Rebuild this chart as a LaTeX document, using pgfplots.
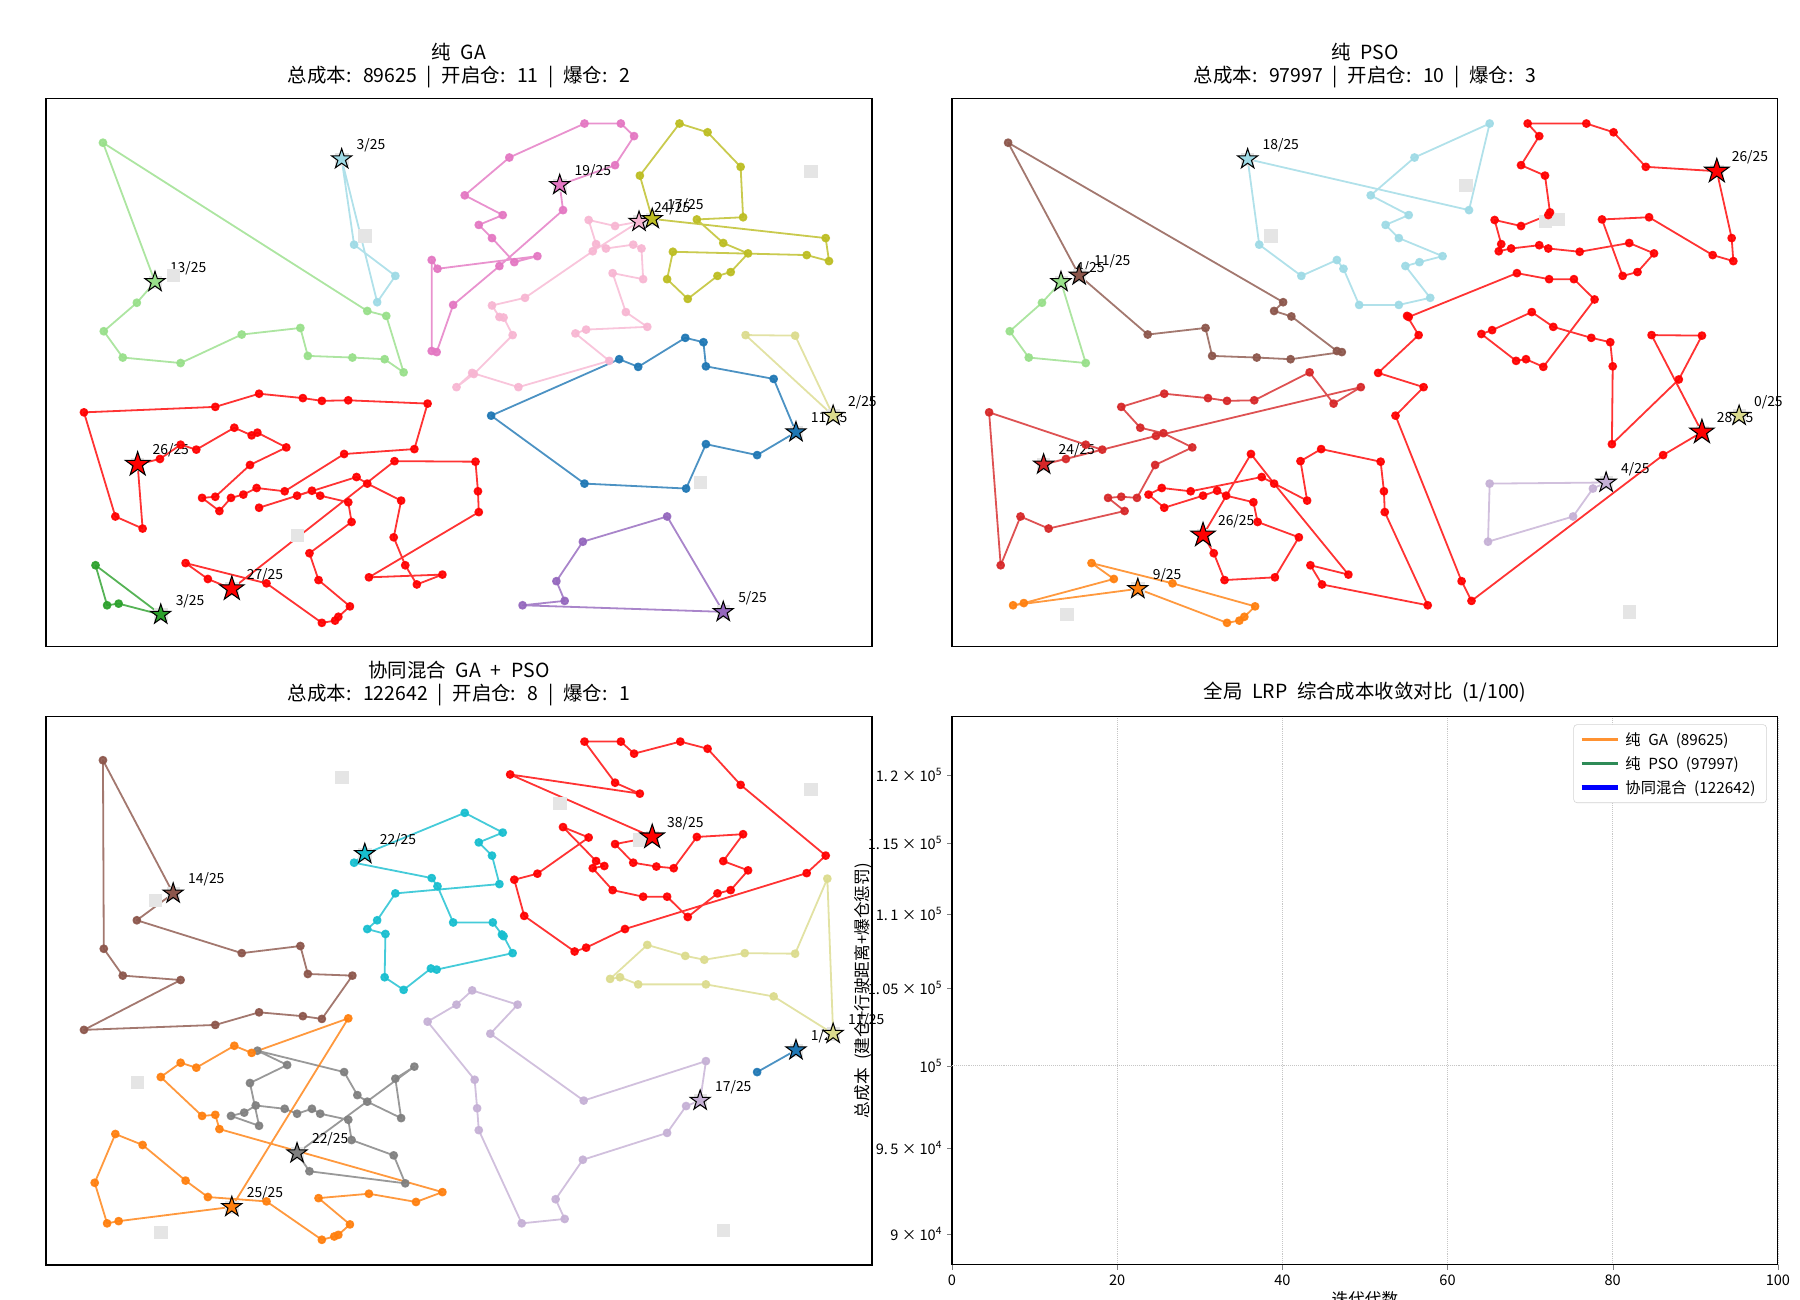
\documentclass[border=0pt]{standalone}
\usepackage{fontspec}
\setmainfont{Noto Sans CJK SC}
\usepackage{pgfplots}
\pgfplotsset{compat=1.18}
\usetikzlibrary{plotmarks}

\definecolor{c0}{HTML}{1F77B4}
\definecolor{c2}{HTML}{FF7F0E}
\definecolor{c4}{HTML}{2CA02C}
\definecolor{c5}{HTML}{98DF8A}
\definecolor{c6}{HTML}{D62728}
\definecolor{c8}{HTML}{9467BD}
\definecolor{c9}{HTML}{C5B0D5}
\definecolor{c10}{HTML}{8C564B}
\definecolor{c12}{HTML}{E377C2}
\definecolor{c13}{HTML}{F7B6D2}
\definecolor{c14}{HTML}{7F7F7F}
\definecolor{c16}{HTML}{BCBD22}
\definecolor{c17}{HTML}{DBDB8D}
\definecolor{c18}{HTML}{17BECF}
\definecolor{c19}{HTML}{9EDAE5}
\definecolor{ovr}{HTML}{FF0000}
\definecolor{lgreen}{HTML}{2E8B57}

\newcommand{\g}{\hspace{0.5em}}
\newcommand{\cl}{:\hspace{0.6em}}

\pgfdeclareplotmark{fstar}{%
  \pgfpathmoveto{\pgfpointpolar{90}{\pgfplotmarksize}}%
  \pgfpathlineto{\pgfpointpolar{126}{0.382\pgfplotmarksize}}%
  \pgfpathlineto{\pgfpointpolar{162}{\pgfplotmarksize}}%
  \pgfpathlineto{\pgfpointpolar{198}{0.382\pgfplotmarksize}}%
  \pgfpathlineto{\pgfpointpolar{234}{\pgfplotmarksize}}%
  \pgfpathlineto{\pgfpointpolar{270}{0.382\pgfplotmarksize}}%
  \pgfpathlineto{\pgfpointpolar{306}{\pgfplotmarksize}}%
  \pgfpathlineto{\pgfpointpolar{342}{0.382\pgfplotmarksize}}%
  \pgfpathlineto{\pgfpointpolar{18}{\pgfplotmarksize}}%
  \pgfpathlineto{\pgfpointpolar{54}{0.382\pgfplotmarksize}}%
  \pgfpathclose
  \pgfusepathqfillstroke
}

\tikzset{lab/.style={anchor=base west, inner sep=0pt, xshift=10.6pt, yshift=6.8pt,
    font=\fontsize{10}{12}\selectfont}}

\pgfplotsset{
  routeaxis/.style={anchor=south west, width=594.7pt, height=394.6pt, scale only axis,
    xmin=0, xmax=100, ymin=0, ymax=100, xtick=\empty, ytick=\empty, clip=false,
    axis line style={line width=0.8pt},
    every axis title/.style={at={(0.5,1)}, anchor=south, yshift=7.5pt, inner sep=0pt,
      align=center, font=\fontsize{14}{16.5}\selectfont}},
  route/.style={color=#1, line width=1.3pt, opacity=0.8, line join=round,
    mark=*, mark size=2.5pt, mark options={solid, opacity=0.9}},
  depot/.style={only marks, mark=fstar, mark size=7.6pt,
    mark options={fill=#1, draw=black, line width=0.75pt}},
  bigdepot/.style={only marks, mark=fstar, mark size=9.2pt,
    mark options={fill=ovr, draw=black, line width=0.75pt}},
  cand/.style={only marks, mark=square*, mark size=4.4pt, color=gray!20},
}

\begin{document}
\begin{tikzpicture}
\useasboundingbox (0,0) rectangle (1296pt,936pt);

% ================= Pure GA =================
\begin{axis}[routeaxis, at={(33.1pt,470.2pt)},
  title={纯\g{}GA\\总成本\cl{}89625\g{}|\g{}开启仓\cl{}11\g{}|\g{}爆仓\cl{}2}]
\addplot[cand] coordinates {(13.2,66.6)(35.8,89.0)(62.2,84.3)(71.8,77.6)(73.4,78.1)(95.3,42.2)(90.8,39.2)(82.0,6.4)(13.9,5.9)(11.1,33.3)(22.5,10.6)(15.4,67.8)(38.6,75.0)(92.6,86.8)(79.2,30.0)(30.4,20.4)};
\addplot[route=c5] coordinates {(13.2,66.6)(11.0,62.8)(7.0,57.6)(9.3,52.8)(16.3,51.8)(23.7,57.0)(30.8,58.2)(31.7,53.1)(37.1,52.8)(41.0,52.5)(43.3,50.1)(41.2,60.4)(38.9,61.3)(6.9,92.0)(13.2,66.6)};
\addplot[route=c19] coordinates {(35.8,89.0)(37.3,73.4)(42.3,67.7)(40.1,62.9)(35.8,89.0)};
\addplot[route=c12] coordinates {(62.2,84.3)(68.9,87.9)(71.2,93.2)(69.6,95.5)(65.2,95.5)(56.1,89.3)(50.7,82.4)(55.3,78.8)(52.4,77.0)(54.0,74.6)(56.7,70.2)(59.5,71.3)(47.4,69.0)(46.7,70.6)(46.7,54.0)(47.3,53.8)(49.3,62.4)(54.9,69.5)(62.6,79.7)(62.2,84.3)};
\addplot[route=c13] coordinates {(71.8,77.6)(68.9,76.8)(65.7,77.9)(66.6,73.5)(67.8,72.7)(71.1,73.4)(72.1,72.7)(72.3,67.1)(68.6,68.2)(70.2,61.1)(72.8,58.4)(65.4,57.9)(64.1,57.2)(68.2,52.2)(57.2,47.4)(51.6,50.0)(49.7,47.4)(51.8,49.8)(56.5,56.9)(55.4,60.1)(54.9,60.2)(54.0,62.3)(58.0,63.7)(66.2,72.2)(71.8,77.6)};
\addplot[route=c16] coordinates {(73.4,78.1)(71.9,86.0)(76.7,95.5)(80.1,93.9)(84.1,87.6)(84.4,78.4)(78.8,78.0)(82.0,73.7)(85.0,71.8)(82.9,68.4)(81.3,67.7)(77.7,63.5)(75.2,67.1)(75.9,72.1)(92.1,71.5)(94.8,70.4)(94.4,74.6)(73.4,78.1)};
\addplot[route=c0] coordinates {(90.8,39.2)(88.1,48.9)(79.9,51.2)(79.6,55.6)(77.4,56.4)(71.7,51.1)(69.4,52.5)(53.9,42.2)(65.2,29.8)(77.5,28.9)(79.9,37.0)(86.1,35.0)(90.8,39.2)};
\addplot[route=c17] coordinates {(95.3,42.2)(90.7,56.8)(84.7,56.9)(95.3,42.2)};
\addplot[route=c8] coordinates {(82.0,6.4)(75.2,23.8)(65.0,19.2)(61.8,12.0)(62.8,8.4)(57.7,7.6)(82.0,6.4)};
\addplot[route=c4] coordinates {(13.9,5.9)(6.0,14.9)(7.4,7.6)(8.8,7.9)(13.9,5.9)};
\addplot[route=ovr] coordinates {(11.1,33.3)(13.8,34.3)(16.3,36.9)(18.2,36.0)(22.8,40.0)(24.9,38.6)(25.6,39.1)(29.1,36.4)(24.7,33.2)(20.5,27.4)(18.9,27.2)(21.0,24.8)(22.4,27.2)(23.9,27.8)(25.5,29.0)(28.9,28.4)(36.1,35.2)(44.6,36.1)(46.2,44.4)(36.6,45.0)(33.4,44.9)(31.1,45.4)(25.8,46.2)(20.5,43.8)(4.6,42.8)(8.4,23.8)(11.7,21.6)(11.1,33.3)};
\addplot[route=ovr] coordinates {(22.5,10.6)(19.6,12.4)(16.9,15.3)(26.7,11.6)(33.4,4.4)(35.0,4.8)(35.4,5.5)(36.8,7.4)(33.0,12.2)(31.9,17.1)(37.0,22.8)(36.6,26.4)(33.2,27.6)(32.2,28.5)(30.4,27.6)(25.8,25.4)(37.6,31.0)(38.9,29.8)(43.0,26.7)(42.1,20.0)(43.5,14.9)(44.9,11.4)(48.0,13.2)(39.1,12.7)(52.4,24.6)(52.3,28.4)(52.0,33.8)(42.2,33.9)(22.5,10.6)};
\addplot[depot=c5] coordinates {(13.2,66.6)};
\addplot[depot=c19] coordinates {(35.8,89.0)};
\addplot[depot=c12] coordinates {(62.2,84.3)};
\addplot[depot=c13] coordinates {(71.8,77.6)};
\addplot[depot=c16] coordinates {(73.4,78.1)};
\addplot[depot=c17] coordinates {(95.3,42.2)};
\addplot[depot=c0] coordinates {(90.8,39.2)};
\addplot[depot=c8] coordinates {(82.0,6.4)};
\addplot[depot=c4] coordinates {(13.9,5.9)};
\addplot[bigdepot] coordinates {(11.1,33.3)};
\addplot[bigdepot] coordinates {(22.5,10.6)};
\node[lab] at (axis cs:13.2,66.6) {13/25};
\node[lab] at (axis cs:35.8,89.0) {3/25};
\node[lab] at (axis cs:62.2,84.3) {19/25};
\node[lab] at (axis cs:71.8,77.6) {24/25};
\node[lab] at (axis cs:73.4,78.1) {17/25};
\node[lab] at (axis cs:95.3,42.2) {2/25};
\node[lab] at (axis cs:90.8,39.2) {11/25};
\node[lab] at (axis cs:82.0,6.4) {5/25};
\node[lab] at (axis cs:13.9,5.9) {3/25};
\node[lab] at (axis cs:11.1,33.3) {26/25};
\node[lab] at (axis cs:22.5,10.6) {27/25};
\end{axis}

% ================= Pure PSO =================
\begin{axis}[routeaxis, at={(685.4pt,470.2pt)},
  title={纯\g{}PSO\\总成本\cl{}97997\g{}|\g{}开启仓\cl{}10\g{}|\g{}爆仓\cl{}3}]
\addplot[cand] coordinates {(13.2,66.6)(35.8,89.0)(62.2,84.3)(71.8,77.6)(73.4,78.1)(95.3,42.2)(90.8,39.2)(82.0,6.4)(13.9,5.9)(11.1,33.3)(22.5,10.6)(15.4,67.8)(38.6,75.0)(92.6,86.8)(79.2,30.0)(30.4,20.4)};
\addplot[route=c19] coordinates {(35.8,89.0)(62.6,79.7)(65.1,95.5)(56.0,89.3)(50.7,82.4)(55.3,78.8)(52.5,77.0)(54.1,74.6)(59.4,71.3)(56.6,70.2)(54.9,69.5)(57.9,63.7)(54.1,62.4)(49.3,62.4)(47.4,69.0)(46.6,70.6)(42.3,67.7)(37.2,73.4)(35.8,89.0)};
\addplot[route=c10] coordinates {(15.4,67.8)(6.8,92.0)(40.1,62.9)(39.0,61.3)(41.1,60.3)(46.6,54.0)(47.2,53.8)(41.0,52.5)(36.9,52.8)(31.5,53.1)(30.7,58.2)(23.7,57.0)(15.4,67.8)};
\addplot[route=c5] coordinates {(13.2,66.6)(10.9,62.8)(7.0,57.6)(9.3,52.8)(16.2,51.8)(13.2,66.6)};
\addplot[route=ovr] coordinates {(92.6,86.8)(84.0,87.6)(80.1,93.9)(76.8,95.5)(69.7,95.5)(71.1,93.2)(68.9,87.9)(71.8,86.0)(72.4,79.3)(72.2,78.8)(68.9,76.8)(65.7,77.9)(66.5,73.5)(66.2,72.2)(67.7,72.7)(71.1,73.3)(72.2,72.7)(76.0,72.1)(82.0,73.7)(85.0,71.8)(83.0,68.4)(81.2,67.7)(78.7,78.0)(84.4,78.4)(92.1,71.5)(94.6,70.4)(94.4,74.6)(92.6,86.8)};
\addplot[route=ovr] coordinates {(90.8,39.2)(84.7,56.9)(90.8,56.8)(88.0,48.8)(79.9,37.0)(80.0,51.2)(79.7,55.6)(77.4,56.4)(72.8,58.4)(70.2,61.1)(65.4,57.8)(64.1,57.1)(68.3,52.2)(69.5,52.5)(71.6,51.1)(77.8,63.4)(75.3,67.1)(72.3,67.1)(68.4,68.2)(55.3,60.2)(55.1,60.4)(56.5,56.9)(51.6,50.0)(57.1,47.4)(53.7,42.2)(61.7,12.0)(62.9,8.4)(86.1,35.0)(90.8,39.2)};
\addplot[route=c9] coordinates {(79.2,30.0)(65.1,29.8)(64.9,19.2)(75.2,23.8)(77.6,28.9)(79.2,30.0)};
\addplot[route=c6] coordinates {(11.1,33.3)(13.8,34.3)(24.7,38.5)(49.5,47.4)(46.2,44.4)(43.3,50.1)(36.6,45.0)(33.3,44.9)(31.0,45.4)(25.7,46.2)(20.5,43.8)(22.8,40.0)(25.6,39.0)(29.1,36.4)(24.6,33.2)(22.4,27.2)(20.5,27.4)(18.9,27.2)(20.9,24.8)(11.7,21.6)(8.3,23.8)(5.9,14.9)(4.5,42.8)(16.2,36.9)(18.2,36.0)(11.1,33.3)};
\addplot[route=ovr] coordinates {(30.4,20.4)(31.7,17.1)(33.0,12.2)(39.1,12.7)(42.0,20.0)(37.0,22.8)(36.5,26.4)(33.2,27.6)(32.1,28.5)(30.4,27.6)(25.7,25.4)(23.8,27.8)(25.4,29.0)(28.9,28.4)(37.5,31.0)(43.0,26.7)(42.2,33.9)(44.7,36.1)(51.9,33.8)(52.3,28.4)(52.4,24.6)(57.6,7.6)(44.8,11.4)(43.4,14.9)(48.0,13.2)(39.0,29.8)(36.2,35.2)(30.4,20.4)};
\addplot[route=c2] coordinates {(22.5,10.6)(7.4,7.6)(8.7,8.0)(19.6,12.4)(16.9,15.3)(26.7,11.6)(36.7,7.4)(35.4,5.5)(34.8,4.8)(33.3,4.4)(22.5,10.6)};
\addplot[depot=c19] coordinates {(35.8,89.0)};
\addplot[depot=c10] coordinates {(15.4,67.8)};
\addplot[depot=c5] coordinates {(13.2,66.6)};
\addplot[bigdepot] coordinates {(92.6,86.8)};
\addplot[depot=c17] coordinates {(95.3,42.2)};
\addplot[bigdepot] coordinates {(90.8,39.2)};
\addplot[depot=c9] coordinates {(79.2,30.0)};
\addplot[depot=c6] coordinates {(11.1,33.3)};
\addplot[bigdepot] coordinates {(30.4,20.4)};
\addplot[depot=c2] coordinates {(22.5,10.6)};
\node[lab] at (axis cs:35.8,89.0) {18/25};
\node[lab] at (axis cs:15.4,67.8) {11/25};
\node[lab] at (axis cs:13.2,66.6) {4/25};
\node[lab] at (axis cs:92.6,86.8) {26/25};
\node[lab] at (axis cs:95.3,42.2) {0/25};
\node[lab] at (axis cs:90.8,39.2) {28/25};
\node[lab] at (axis cs:79.2,30.0) {4/25};
\node[lab] at (axis cs:11.1,33.3) {24/25};
\node[lab] at (axis cs:30.4,20.4) {26/25};
\node[lab] at (axis cs:22.5,10.6) {9/25};
\end{axis}

% ================= Hybrid =================
\begin{axis}[routeaxis, at={(33.1pt,25.2pt)},
  title={协同混合\g{}GA\g{}+\g{}PSO\\总成本\cl{}122642\g{}|\g{}开启仓\cl{}8\g{}|\g{}爆仓\cl{}1}]
\addplot[cand] coordinates {(13.2,66.6)(35.8,89.0)(62.2,84.3)(71.8,77.6)(73.4,78.1)(95.3,42.2)(90.8,39.2)(82.0,6.4)(13.9,5.9)(11.1,33.3)(22.5,10.6)(15.4,67.8)(38.6,75.0)(92.6,86.8)(79.2,30.0)(30.4,20.4)};
\addplot[route=c10] coordinates {(15.4,67.8)(6.9,92.1)(7.0,57.7)(9.3,52.8)(16.3,52.0)(4.6,42.9)(20.5,43.8)(25.8,46.1)(31.1,45.4)(33.4,44.9)(37.1,52.8)(31.7,53.1)(30.8,58.2)(23.7,56.9)(11.0,62.9)(15.4,67.8)};
\addplot[route=c18] coordinates {(38.6,75.0)(50.7,82.5)(55.3,78.9)(52.4,77.1)(54.0,74.7)(54.9,69.5)(42.3,67.8)(40.1,62.9)(38.9,61.3)(41.1,60.4)(41.0,52.5)(43.3,50.2)(46.6,54.1)(47.3,53.9)(56.5,56.9)(55.4,60.0)(55.2,60.3)(54.1,62.5)(49.3,62.5)(47.4,69.1)(46.7,70.6)(37.3,73.4)(38.6,75.0)};
\addplot[route=ovr] coordinates {(73.4,78.1)(56.2,89.5)(71.9,86.0)(68.9,88.0)(65.2,95.5)(69.6,95.5)(71.2,93.3)(76.8,95.5)(80.1,94.2)(84.1,87.6)(94.4,74.7)(92.1,71.5)(70.1,61.3)(65.4,57.9)(64.0,57.2)(57.9,63.7)(56.7,70.3)(59.5,71.4)(65.7,78.0)(62.6,79.9)(66.6,73.7)(67.6,72.8)(66.2,72.4)(68.6,68.4)(72.3,67.2)(75.2,67.2)(77.7,63.5)(81.3,67.8)(82.9,68.4)(85.0,72.0)(82.0,73.7)(84.4,78.6)(78.8,78.1)(76.0,72.4)(73.9,72.7)(71.1,73.4)(68.9,76.8)(73.4,78.1)};
\addplot[route=c17] coordinates {(95.3,42.2)(94.6,70.5)(90.7,56.8)(84.6,56.9)(79.7,55.7)(77.4,56.4)(72.8,58.4)(68.3,52.2)(69.5,52.5)(71.7,51.2)(79.9,51.2)(88.1,49.0)(95.3,42.2)};
\addplot[route=c0] coordinates {(90.8,39.2)(86.1,35.2)(90.8,39.2)};
\addplot[route=c9] coordinates {(79.2,30.0)(79.9,37.2)(65.1,30.0)(53.8,42.2)(57.1,47.5)(51.6,50.1)(49.7,47.5)(46.2,44.4)(51.9,33.8)(52.2,28.6)(52.4,24.6)(57.6,7.6)(62.8,8.4)(61.7,12.0)(65.0,19.2)(75.2,24.1)(77.5,29.0)(79.2,30.0)};
\addplot[route=c14] coordinates {(30.4,20.4)(44.6,36.2)(42.3,34.0)(43.0,26.8)(38.9,29.8)(37.7,31.0)(36.1,35.2)(25.6,39.1)(29.2,36.5)(24.7,33.2)(25.8,25.4)(22.4,27.2)(24.0,27.8)(25.4,29.1)(28.9,28.5)(30.4,27.6)(32.2,28.5)(33.2,27.6)(36.6,26.5)(37.0,22.8)(42.1,20.0)(43.5,14.9)(31.9,17.1)(30.4,20.4)};
\addplot[route=c2] coordinates {(22.5,10.6)(36.6,45.0)(24.9,38.7)(22.8,40.0)(18.2,36.0)(16.3,36.9)(13.9,34.3)(18.9,27.2)(20.5,27.4)(21.0,24.8)(48.0,13.3)(44.8,11.5)(39.1,13.0)(33.0,12.2)(36.8,7.4)(35.4,5.5)(34.9,5.2)(33.4,4.6)(26.7,11.6)(19.6,12.4)(16.9,15.4)(11.7,21.9)(8.4,23.9)(5.9,15.0)(7.4,7.6)(8.8,8.0)(22.5,10.6)};
\addplot[depot=c10] coordinates {(15.4,67.8)};
\addplot[depot=c18] coordinates {(38.6,75.0)};
\addplot[bigdepot] coordinates {(73.4,78.1)};
\addplot[depot=c17] coordinates {(95.3,42.2)};
\addplot[depot=c0] coordinates {(90.8,39.2)};
\addplot[depot=c9] coordinates {(79.2,30.0)};
\addplot[depot=c14] coordinates {(30.4,20.4)};
\addplot[depot=c2] coordinates {(22.5,10.6)};
\node[lab] at (axis cs:15.4,67.8) {14/25};
\node[lab] at (axis cs:38.6,75.0) {22/25};
\node[lab] at (axis cs:73.4,78.1) {38/25};
\node[lab] at (axis cs:95.3,42.2) {11/25};
\node[lab] at (axis cs:90.8,39.2) {1/25};
\node[lab] at (axis cs:79.2,30.0) {17/25};
\node[lab] at (axis cs:30.4,20.4) {22/25};
\node[lab] at (axis cs:22.5,10.6) {25/25};
\end{axis}

% ================= Convergence =================
\begin{axis}[anchor=south west, at={(685.4pt,25.2pt)},
  width=594.7pt, height=394.6pt, scale only axis,
  xmin=0, xmax=100, ymode=log, ymin=88281, ymax=124482,
  axis line style={line width=0.8pt},
  tick pos=left, tick align=outside, major tick length=3.5pt,
  xtick={0,20,40,60,80,100},
  ytick={90000,95000,100000,105000,110000,115000,120000},
  yticklabels={9 × 10\textsuperscript{4}, 9.\,5 × 10\textsuperscript{4}, 10\textsuperscript{5}, 1.\,05 × 10\textsuperscript{5}, 1.\,1 × 10\textsuperscript{5}, 1.\,15 × 10\textsuperscript{5}, 1.\,2 × 10\textsuperscript{5}},
  yminorticks=false,
  /pgf/number format/assume math mode=true,
  tick label style={font=\fontsize{10.5}{12}\selectfont},
  xmajorgrids=true,
  grid style={densely dotted, gray!45, line width=0.6pt},
  extra y ticks={100000}, extra y tick labels={},
  extra y tick style={ymajorgrids=true},
  title={全局\g{}LRP\g{}综合成本收敛对比\g{}(1/100)},
  every axis title/.style={at={(0.5,1)}, anchor=south, yshift=10pt, inner sep=0pt,
    font=\fontsize{14}{17}\selectfont},
  xlabel={迭代代数},
  every axis x label/.style={at={(axis description cs:0.5,0)}, anchor=north,
    yshift=-19pt, inner sep=0pt, font=\fontsize{12}{14}\selectfont},
  ylabel={总成本\g{}(建仓+行驶距离+爆仓惩罚)},
  every axis y label/.style={at={(axis description cs:-0.1077,0.5)}, rotate=90,
    anchor=center, inner sep=0pt, font=\fontsize{12}{14}\selectfont},
  legend style={at={(axis description cs:1,1)}, anchor=north east, xshift=-8pt,
    yshift=-5.5pt, draw=gray!35, rounded corners=2.5pt, fill=white,
    font=\fontsize{11}{13}\selectfont, row sep=2.5pt, inner xsep=4pt, inner ysep=3.5pt,
    nodes={inner xsep=4pt}},
  legend cell align=left,
  legend image code/.code={\draw[#1] (0pt,0pt) -- (26pt,0pt);},
]
\addlegendimage{color=c2, line width=1.9pt, opacity=0.85}
\addlegendentry{纯\g{}GA\g{}(89625)}
\addlegendimage{color=lgreen, line width=1.9pt}
\addlegendentry{纯\g{}PSO\g{}(97997)}
\addlegendimage{color=blue, line width=3.3pt}
\addlegendentry{协同混合\g{}(122642)}
\end{axis}
\end{tikzpicture}
\end{document}
